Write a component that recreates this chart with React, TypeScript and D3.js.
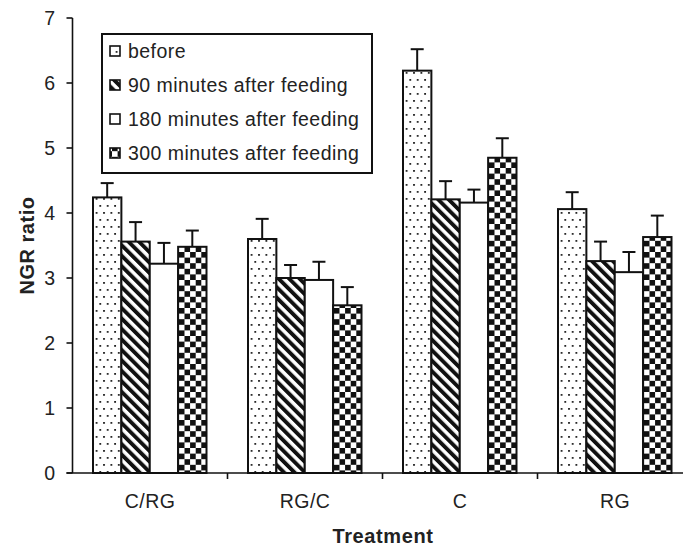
import React from "react";
import * as d3 from "d3";

const categories = ["C/RG", "RG/C", "C", "RG"];
const series = ["before", "90 minutes after feeding", "180 minutes after feeding", "300 minutes after feeding"];
const before = [4.24, 3.6, 6.19, 4.06];
const min90 = [3.56, 3.0, 4.21, 3.26];
const min180 = [3.22, 2.97, 4.16, 3.09];
const min300 = [3.48, 2.58, 4.85, 3.63];
const errBefore = [0.22, 0.31, 0.33, 0.26];
const err90 = [0.3, 0.2, 0.28, 0.3];
const err180 = [0.32, 0.28, 0.2, 0.31];
const err300 = [0.25, 0.28, 0.3, 0.33];
const yTicks = [0, 1, 2, 3, 4, 5, 6, 7];

const values = [before, min90, min180, min300];
const errors = [errBefore, err90, err180, err300];
const fills = ["url(#dots)", "url(#diag)", "#fff", "url(#check)"];

const FONT = "'Liberation Sans', Arial, Helvetica, sans-serif";

export default function App() {
  const W = 683, H = 548;
  const y0 = 473, y7 = 18, xL = 72.5;
  const y = d3.scaleLinear().domain([0, 7]).range([y0, y7]);
  const xOuter = d3.scaleBand<string>().domain(categories).range([xL, xL + 155 * 4]).padding(0);
  const xInner = d3.scaleBand<string>().domain(series).range([20.5, 134]).padding(0);
  const bw = xInner.bandwidth();

  return (
    <svg width={W} height={H} style={{ position: "absolute", left: 0, top: 0, background: "#fff" }}>
      <defs>
        <pattern id="dots" patternUnits="userSpaceOnUse" width={7.4} height={14}>
          <rect width={7.4} height={14} fill="#fff" />
          <rect x={1} y={2} width={1.8} height={1.8} fill="#222" />
          <rect x={4.7} y={9} width={1.8} height={1.8} fill="#222" />
        </pattern>
        <pattern id="diag" patternUnits="userSpaceOnUse" width={7.4} height={10} patternTransform="rotate(-45)">
          <rect width={7.4} height={10} fill="#fff" />
          <rect width={3.9} height={10} fill="#111" />
        </pattern>
        <pattern id="check" patternUnits="userSpaceOnUse" width={11.2} height={11.2}>
          <rect width={11.2} height={11.2} fill="#fff" />
          <rect width={5.6} height={5.6} fill="#111" />
          <rect x={5.6} y={5.6} width={5.6} height={5.6} fill="#111" />
        </pattern>
      </defs>

      {/* bars */}
      {categories.map((c, ci) => (
        <g key={c} transform={`translate(${xOuter(c)},0)`}>
          {series.map((s, si) => {
            const v = values[si][ci];
            const e = errors[si][ci];
            const bx = xInner(s)!;
            const cx = bx + bw / 2;
            return (
              <g key={s}>
                <line x1={cx} x2={cx} y1={y(v)} y2={y(v + e)} stroke="#111" strokeWidth={2} />
                <line x1={cx - 6.5} x2={cx + 6.5} y1={y(v + e)} y2={y(v + e)} stroke="#111" strokeWidth={2} />
                <rect x={bx} y={y(v)} width={bw} height={y0 - y(v)} fill={fills[si]} stroke="#111" strokeWidth={2} />
              </g>
            );
          })}
        </g>
      ))}

      {/* y axis */}
      <line x1={xL} x2={xL} y1={y7} y2={y0} stroke="#111" strokeWidth={1.6} />
      {yTicks.map((t) => (
        <g key={t}>
          <line x1={xL - 6} x2={xL} y1={y(t)} y2={y(t)} stroke="#111" strokeWidth={1.6} />
          <text x={55} y={y(t)} dy="0.36em" textAnchor="end" fontFamily={FONT} fontSize={19.5} fill="#222">{t}</text>
        </g>
      ))}

      {/* x axis */}
      <line x1={xL - 6} x2={W} y1={y0} y2={y0} stroke="#111" strokeWidth={1.6} />
      {categories.slice(1).map((c) => (
        <line key={c} x1={xOuter(c)} x2={xOuter(c)} y1={y0} y2={y0 + 6} stroke="#111" strokeWidth={1.6} />
      ))}
      {categories.map((c) => (
        <text key={c} x={xOuter(c)! + xOuter.bandwidth() / 2} y={508} textAnchor="middle" fontFamily={FONT} fontSize={19.5} letterSpacing={0.5} fill="#222">{c}</text>
      ))}

      {/* axis titles */}
      <text x={383} y={543} textAnchor="middle" fontFamily={FONT} fontSize={20} fontWeight="bold" letterSpacing={0.6} fill="#222">Treatment</text>
      <text transform={`translate(34,${(y0 + y7) / 2}) rotate(-90)`} textAnchor="middle" fontFamily={FONT} fontSize={20} fontWeight="bold" letterSpacing={0.5} fill="#222">NGR ratio</text>

      {/* legend */}
      <rect x={102} y={34} width={270} height={139} fill="#fff" stroke="#111" strokeWidth={2} />
      {series.map((s, i) => {
        const ry = 51 + i * 34;
        return (
          <g key={s}>
            <rect x={110} y={ry - 5} width={10} height={10} fill={fills[i]} stroke="#111" strokeWidth={1.6} />
            <text x={128} y={ry} dy="0.36em" fontFamily={FONT} fontSize={19.5} letterSpacing={0.45} fill="#222">{s}</text>
          </g>
        );
      })}
    </svg>
  );
}
